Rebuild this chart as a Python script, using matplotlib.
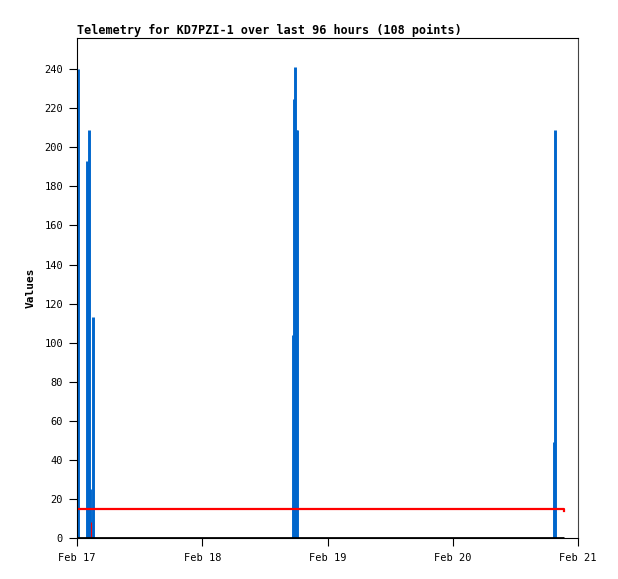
import numpy as np
import matplotlib
matplotlib.use("Agg")
import matplotlib.pyplot as plt

# time in days since Feb 17 00:00
blue_t = [0.008, 0.080, 0.096, 0.104, 0.128,
          1.724, 1.732, 1.740, 1.750, 1.756,
          3.808, 3.816]
blue_v = [240, 193, 209, 25, 113,
          104, 225, 241, 209, 209,
          49, 209]

red_t = [0.0, 3.82, 3.888]
red_v = [15, 15, 14]
red_spike_t = [0.112]
red_spike_v = [8]

zero_t = [0.0, 3.888]
zero_v = [0, 0]

day_ticks = [0, 1, 2, 3, 4]
day_labels = ['Feb 17', 'Feb 18', 'Feb 19', 'Feb 20', 'Feb 21']
y_ticks = list(range(0, 241, 20))

plt.rcParams['font.family'] = ['DejaVu Sans Mono']

fig = plt.figure(figsize=(6.18, 5.79), dpi=100)
ax = fig.add_axes([0.1246, 0.0708, 0.8107, 0.8636])

ax.vlines(blue_t, 0, blue_v, color='#0066cc', linewidth=2.1)
ax.vlines(red_spike_t, 0, red_spike_v, color='#ff0000', linewidth=0.8)
ax.step(red_t, red_v, where='post', color='#ff0000', linewidth=1.6)
ax.plot(zero_t, zero_v, color='black', linewidth=2.0, solid_capstyle='butt')

ax.set_xlim(0, 4)
ax.set_ylim(0, 256)
ax.set_xticks(day_ticks)
ax.set_xticklabels(day_labels, fontsize=7.5)
ax.set_yticks(y_ticks)
ax.set_yticklabels([str(v) for v in y_ticks], fontsize=7.5)
ax.tick_params(direction='out', length=6, width=0.8)
ax.tick_params(axis='y', pad=4)
ax.tick_params(axis='x', pad=5)

for s in ['left', 'bottom', 'top']:
    ax.spines[s].set_color('black')
ax.spines['right'].set_color('#444444')
for s in ax.spines.values():
    s.set_linewidth(0.8)

ax.set_ylabel('Values', fontsize=8, fontweight='bold', labelpad=6)
ax.set_title('Telemetry for KD7PZI-1 over last 96 hours (108 points)',
             loc='left', fontsize=8.45, fontweight='bold', pad=3)

fig.savefig('out.png', dpi=100)
